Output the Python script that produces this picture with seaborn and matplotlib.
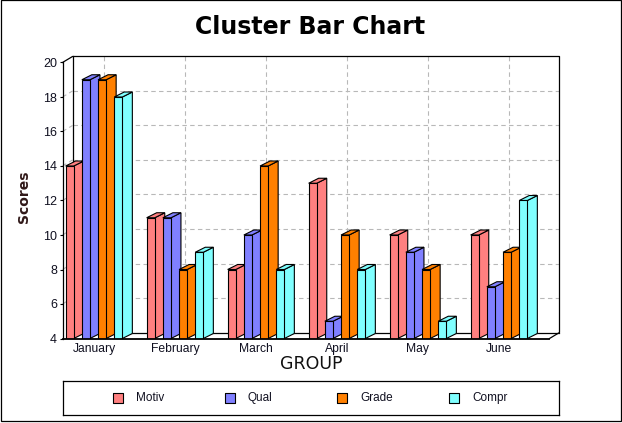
import numpy as np
import pandas as pd
import matplotlib
matplotlib.use('Agg')
import matplotlib.pyplot as plt
import seaborn as sns
from matplotlib.patches import Polygon, Rectangle

months = ['January', 'February', 'March', 'April', 'May', 'June']
motiv = [14, 11, 8, 13, 10, 10]
qual = [19, 11, 10, 5, 9, 7]
grade = [19, 8, 14, 10, 8, 9]
compr = [18, 9, 8, 8, 5, 12]
series_names = ['Motiv', 'Qual', 'Grade', 'Compr']
colors = ['#FF8080', '#8080FF', '#FF8000', '#80FFFF']
y_ticks = [4, 6, 8, 10, 12, 14, 16, 18, 20]

W, H = 622, 423
# front plane of the chart, in pixels
L, R, T, B = 62.5, 549.5, 62.5, 338.5

sns.set_theme(style='white')
plt.rcParams['font.family'] = ['Liberation Sans', 'DejaVu Sans']

df = pd.DataFrame({'month': months, 'Motiv': motiv, 'Qual': qual, 'Grade': grade, 'Compr': compr})
long_df = df.melt(id_vars='month', var_name='series', value_name='score')

fig = plt.figure(figsize=(W / 100, H / 100), dpi=100)
ax = fig.add_axes([L / W, 1 - B / H, (R - L) / W, (B - T) / H])
ax.patch.set_alpha(0)

sns.barplot(data=long_df, x='month', y='score', hue='series', hue_order=series_names,
            palette=colors, saturation=1, width=0.8, gap=0.5, edgecolor='black',
            linewidth=0.8, legend=False, ax=ax)

px_x = 81.0  # pixels per category
ax.set_xlim(-(94 - L) / px_x, (R - 94) / px_x)
ax.set_ylim(4, 20)
px_y = (B - T) / 16

# depth of the back wall and of the bars, in data units
wall_dx, wall_dy = 10 / px_x, 6 / px_y
bar_dx, bar_dy = 10 / px_x, 5 / px_y

x0, x1 = ax.get_xlim()
grid_kw = dict(color='#b8b8b8', lw=0.8, ls=(0, (4, 3)), zorder=0.5, clip_on=False)
for y in y_ticks[1:-1]:
    ax.plot([x0, x0 + wall_dx], [y, y + wall_dy], **grid_kw)
    ax.plot([x0 + wall_dx, x1 + wall_dx], [y + wall_dy, y + wall_dy], **grid_kw)
for i in range(len(months)):
    ax.plot([i + wall_dx, i + wall_dx], [4 + wall_dy, 20 + wall_dy], **grid_kw)

# back wall outline
line_kw = dict(color='black', lw=0.9, zorder=0.8, clip_on=False, solid_capstyle='projecting')
ax.plot([x0, x0 + wall_dx, x1 + wall_dx, x1 + wall_dx, x1],
        [20, 20 + wall_dy, 20 + wall_dy, 4 + wall_dy, 4], **line_kw)
ax.plot([x0 + wall_dx, x0 + wall_dx, x1 + wall_dx],
        [20 + wall_dy, 4 + wall_dy, 4 + wall_dy], **line_kw)

# extrude every bar, left to right so the next one covers the last side
bars = sorted([p for p in ax.patches if p.get_height() > 0], key=lambda p: p.get_x())
z = 2
for bar in bars:
    bx, bw, bh = bar.get_x(), bar.get_width(), bar.get_height()
    c = bar.get_facecolor()
    side = [(bx + bw, 4), (bx + bw + bar_dx, 4 + bar_dy),
            (bx + bw + bar_dx, bh + bar_dy), (bx + bw, bh)]
    top = [(bx, bh), (bx + bar_dx, bh + bar_dy), (bx + bw + bar_dx, bh + bar_dy), (bx + bw, bh)]
    for pts in (side, top):
        ax.add_patch(Polygon(pts, closed=True, facecolor=c, edgecolor='black', lw=0.8,
                             zorder=z, clip_on=False))
    bar.set_zorder(z + 1)
    z += 2

for s in ['top', 'right']:
    ax.spines[s].set_visible(False)
for s in ['left', 'bottom']:
    ax.spines[s].set_color('black')
    ax.spines[s].set_zorder(z + 1)
ax.spines['left'].set_linewidth(0.9)
ax.spines['bottom'].set_linewidth(1.3)

ax.set_yticks(y_ticks)
ax.tick_params(axis='y', left=True, length=2.5, width=0.8, color='black', pad=1.5,
               labelsize=9, labelcolor='#101020')
ax.tick_params(axis='x', bottom=False, length=0, pad=3, labelsize=8.7, labelcolor='#101020')
ax.set_xlabel('GROUP', family='DejaVu Sans', fontsize=12.5, color='#101010', labelpad=0, va='center')
ax.xaxis.set_label_coords((311 - L) / (R - L), -25 / (B - T))
ax.set_ylabel('Scores', family='DejaVu Sans', fontsize=10, fontweight='bold', color='#301818', va='center')
ax.yaxis.set_label_coords(-38.5 / (R - L), (338 - 196) / (B - T))

fig.text(310 / W, 1 - 27 / H, 'Cluster Bar Chart', family='DejaVu Sans', fontsize=17,
         fontweight='bold', color='black', ha='center', va='center')

# legend box
lg = fig.add_axes([62.5 / W, 1 - 414.5 / H, 496 / W, 34 / H])
lg.set_xlim(62.5, 558.5)
lg.set_ylim(414.5, 380.5)
lg.set_xticks([])
lg.set_yticks([])
for s in lg.spines.values():
    s.set_color('black')
    s.set_linewidth(0.9)
for i, (name, c) in enumerate(zip(series_names, colors)):
    lg.scatter([118 + 112 * i], [397.5], marker='s', s=42, color=c, edgecolor='black', linewidth=0.8)
    lg.text(136 + 112 * i, 397.5, name, fontsize=8.5, color='#101020', va='center', ha='left')

# outer frame of the picture
fig.add_artist(Rectangle((0.5 / W, 1 - 421 / H), 620 / W, 420.5 / H, transform=fig.transFigure,
                         fill=False, edgecolor='black', lw=0.9))

fig.savefig('out.png', dpi=100)
